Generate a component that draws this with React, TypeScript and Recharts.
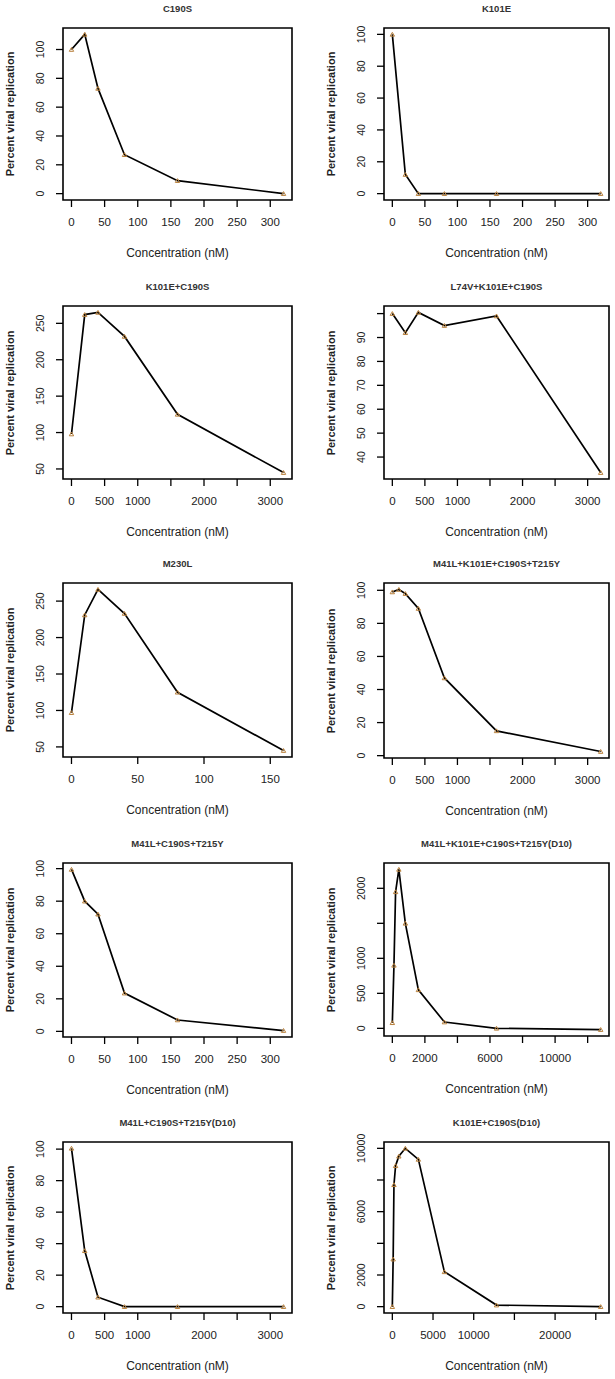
import React from 'react';
import { LineChart, Line, XAxis, YAxis, ReferenceArea } from 'recharts';

// concentrations (nM) and percent viral replication
const concC190S = [0, 20, 40, 80, 160, 320];
const valC190S = [100, 110.5, 73, 27, 9, 0];

const concK101E = [0, 20, 40, 80, 160, 320];
const valK101E = [100, 12, 0, 0, 0, 0];

const concK101EC190S = [0, 200, 400, 800, 1600, 3200];
const valK101EC190S = [98, 262, 265, 232, 125, 45];

const concL74V = [0, 200, 400, 800, 1600, 3200];
const valL74V = [100, 92, 100.5, 95, 99, 33.5];

const concM230L = [0, 10, 20, 40, 80, 160];
const valM230L = [97, 231, 266, 233, 125, 45];

const concM41LK101E = [0, 100, 200, 400, 800, 1600, 3200];
const valM41LK101E = [99, 100.5, 98, 89, 47, 15, 2.5];

const concM41LC190S = [0, 20, 40, 80, 160, 320];
const valM41LC190S = [99.5, 80, 72, 23.5, 7, 0.5];

const concM41LK101ED10 = [0, 100, 200, 400, 800, 1600, 3200, 6400, 12800];
const valM41LK101ED10 = [80, 900, 1950, 2270, 1500, 550, 90, 0, -18];

const concM41LC190SD10 = [0, 200, 400, 800, 1600, 3200];
const valM41LC190SD10 = [100.5, 35.5, 6, 0, 0, 0];

const concK101EC190SD10 = [0, 100, 200, 400, 800, 1600, 3200, 6400, 12800, 25600];
const valK101EC190SD10 = [0, 3000, 7700, 8900, 9500, 10000, 9300, 2200, 100, 0];

// tick positions and which of them carry a label (R drops crowded ones)
const ticks0to300 = [0, 50, 100, 150, 200, 250, 300];
const ticks0to3000 = [0, 500, 1000, 1500, 2000, 2500, 3000];
const labels0to3000 = [0, 500, 1000, 2000, 3000];
const ticks0to160 = [0, 50, 100, 150];
const ticks0to12000 = [0, 2000, 4000, 6000, 8000, 10000, 12000];
const labels0to12000 = [0, 2000, 6000, 10000];
const ticks0to25000 = [0, 5000, 10000, 15000, 20000, 25000];
const labels0to25000 = [0, 5000, 10000, 20000];

const yTicks0to100 = [0, 20, 40, 60, 80, 100];
const yTicks50to250 = [50, 100, 150, 200, 250];
const yTicks40to100 = [40, 50, 60, 70, 80, 90, 100];
const yLabels40to90 = [40, 50, 60, 70, 80, 90];
const yTicks0to2000 = [0, 500, 1000, 1500, 2000];
const yLabels0to2000 = [0, 500, 1000, 2000];
const yTicks0to10000 = [0, 2000, 4000, 6000, 8000, 10000];
const yLabels0to10000 = [0, 2000, 6000, 10000];

const FONT = '"Liberation Sans", Arial, Helvetica, sans-serif';

type Panel = {
  title: string;
  conc: number[];
  vals: number[];
  xTicks: number[];
  xLabels: number[];
  yTicks: number[];
  yLabels: number[];
  box: [number, number, number, number]; // left, top, right, bottom on the page
};

const panels: Panel[] = [
  { title: 'C190S', conc: concC190S, vals: valC190S, xTicks: ticks0to300, xLabels: ticks0to300, yTicks: yTicks0to100, yLabels: yTicks0to100, box: [63, 28, 292, 200] },
  { title: 'K101E', conc: concK101E, vals: valK101E, xTicks: ticks0to300, xLabels: ticks0to300, yTicks: yTicks0to100, yLabels: yTicks0to100, box: [384, 28, 609, 200] },
  { title: 'K101E+C190S', conc: concK101EC190S, vals: valK101EC190S, xTicks: ticks0to3000, xLabels: labels0to3000, yTicks: yTicks50to250, yLabels: yTicks50to250, box: [63, 306, 292, 479] },
  { title: 'L74V+K101E+C190S', conc: concL74V, vals: valL74V, xTicks: ticks0to3000, xLabels: labels0to3000, yTicks: yTicks40to100, yLabels: yLabels40to90, box: [384, 306, 609, 479] },
  { title: 'M230L', conc: concM230L, vals: valM230L, xTicks: ticks0to160, xLabels: ticks0to160, yTicks: yTicks50to250, yLabels: yTicks50to250, box: [63, 583, 292, 757] },
  { title: 'M41L+K101E+C190S+T215Y', conc: concM41LK101E, vals: valM41LK101E, xTicks: ticks0to3000, xLabels: labels0to3000, yTicks: yTicks0to100, yLabels: yTicks0to100, box: [384, 583, 609, 758] },
  { title: 'M41L+C190S+T215Y', conc: concM41LC190S, vals: valM41LC190S, xTicks: ticks0to300, xLabels: ticks0to300, yTicks: yTicks0to100, yLabels: yTicks0to100, box: [63, 863, 292, 1037] },
  { title: 'M41L+K101E+C190S+T215Y(D10)', conc: concM41LK101ED10, vals: valM41LK101ED10, xTicks: ticks0to12000, xLabels: labels0to12000, yTicks: yTicks0to2000, yLabels: yLabels0to2000, box: [384, 863, 609, 1036] },
  { title: 'M41L+C190S+T215Y(D10)', conc: concM41LC190SD10, vals: valM41LC190SD10, xTicks: ticks0to3000, xLabels: labels0to3000, yTicks: yTicks0to100, yLabels: yTicks0to100, box: [63, 1142, 292, 1313] },
  { title: 'K101E+C190S(D10)', conc: concK101EC190SD10, vals: valK101EC190SD10, xTicks: ticks0to25000, xLabels: labels0to25000, yTicks: yTicks0to10000, yLabels: yLabels0to10000, box: [384, 1142, 609, 1313] },
];

// R style axis range: data range padded by 4% on each side
const padded = (arr: number[]): [number, number] => {
  const lo = Math.min(...arr);
  const hi = Math.max(...arr);
  const d = (hi - lo) * 0.04;
  return [lo - d, hi + d];
};

const Triangle = (props: any) => {
  const { cx, cy } = props;
  if (cx == null || cy == null) return <g />;
  return (
    <path
      d={`M${cx - 2.2},${cy + 1.8} L${cx},${cy - 2} L${cx + 2.2},${cy + 1.8} Z`}
      fill="none"
      stroke="#b8803c"
      strokeWidth={1}
    />
  );
};

const PanelChart = ({ p }: { p: Panel }) => {
  const [L, T, R, B] = p.box;
  const ml = 63;
  const mt = 30;
  const mr = 6;
  const mb = 70;
  const width = R - L + ml + mr;
  const height = B - T + mt + mb;
  const data = p.conc.map((c, i) => ({ x: c, y: p.vals[i] }));
  const xd = padded(p.conc);
  const yd = padded(p.vals);

  const xTick = (t: any) => {
    if (!p.xLabels.includes(t.payload.value)) return <g />;
    return (
      <text x={t.x} y={t.y} dy="0.36em" textAnchor="middle" fontSize={11.5} fontFamily={FONT} fill="#222">
        {t.payload.value}
      </text>
    );
  };
  const yTick = (t: any) => {
    if (!p.yLabels.includes(t.payload.value)) return <g />;
    return (
      <text
        x={t.x}
        y={t.y}
        dy="0.36em"
        textAnchor="middle"
        transform={`rotate(-90 ${t.x} ${t.y})`}
        fontSize={10.5}
        fontFamily={FONT}
        fill="#222"
      >
        {t.payload.value}
      </text>
    );
  };

  return (
    <div style={{ position: 'absolute', left: L - ml, top: T - mt }}>
      <LineChart width={width} height={height} data={data} margin={{ top: mt, right: mr, left: 0, bottom: 0 }}>
        <XAxis
          dataKey="x"
          type="number"
          domain={xd}
          ticks={p.xTicks}
          allowDataOverflow
          height={mb}
          axisLine={false}
          tickLine={{ stroke: '#000', strokeWidth: 1.3 }}
          tickSize={7}
          tickMargin={15}
          tick={xTick}
          interval={0}
        />
        <YAxis
          type="number"
          domain={yd}
          ticks={p.yTicks}
          allowDataOverflow
          width={ml}
          axisLine={false}
          tickLine={{ stroke: '#000', strokeWidth: 1.3 }}
          tickSize={7}
          tickMargin={16}
          tick={yTick}
          interval={0}
        />
        <ReferenceArea
          x1={xd[0]}
          x2={xd[1]}
          y1={yd[0]}
          y2={yd[1]}
          fill="none"
          fillOpacity={0}
          stroke="#000"
          strokeWidth={1.6}
          ifOverflow="visible"
        />
        <Line
          type="linear"
          dataKey="y"
          stroke="#000"
          strokeWidth={1.7}
          dot={<Triangle />}
          activeDot={false}
          isAnimationActive={false}
        />
      </LineChart>
      <div
        style={{
          position: 'absolute',
          left: ml + (R - L) / 2,
          top: mt - 20,
          transform: 'translate(-50%, -50%)',
          whiteSpace: 'nowrap',
          fontFamily: FONT,
          fontSize: 9.5,
          fontWeight: 'bold',
          color: '#333',
        }}
      >
        {p.title}
      </div>
      <div
        style={{
          position: 'absolute',
          left: ml + (R - L) / 2,
          top: mt + (B - T) + 53,
          transform: 'translate(-50%, -50%)',
          whiteSpace: 'nowrap',
          fontFamily: FONT,
          fontSize: 12,
          color: '#222',
        }}
      >
        Concentration (nM)
      </div>
      <div
        style={{
          position: 'absolute',
          left: ml - 53,
          top: mt + (B - T) / 2,
          transform: 'translate(-50%, -50%) rotate(-90deg)',
          whiteSpace: 'nowrap',
          fontFamily: FONT,
          fontSize: 11,
          fontWeight: 'bold',
          color: '#222',
        }}
      >
        Percent viral replication
      </div>
    </div>
  );
};

export default function App() {
  return (
    <div style={{ position: 'relative', width: 615, height: 1379, background: '#fff', overflow: 'hidden' }}>
      <style>{'body{margin:0}'}</style>
      {panels.map((p) => (
        <PanelChart key={p.title} p={p} />
      ))}
    </div>
  );
}
